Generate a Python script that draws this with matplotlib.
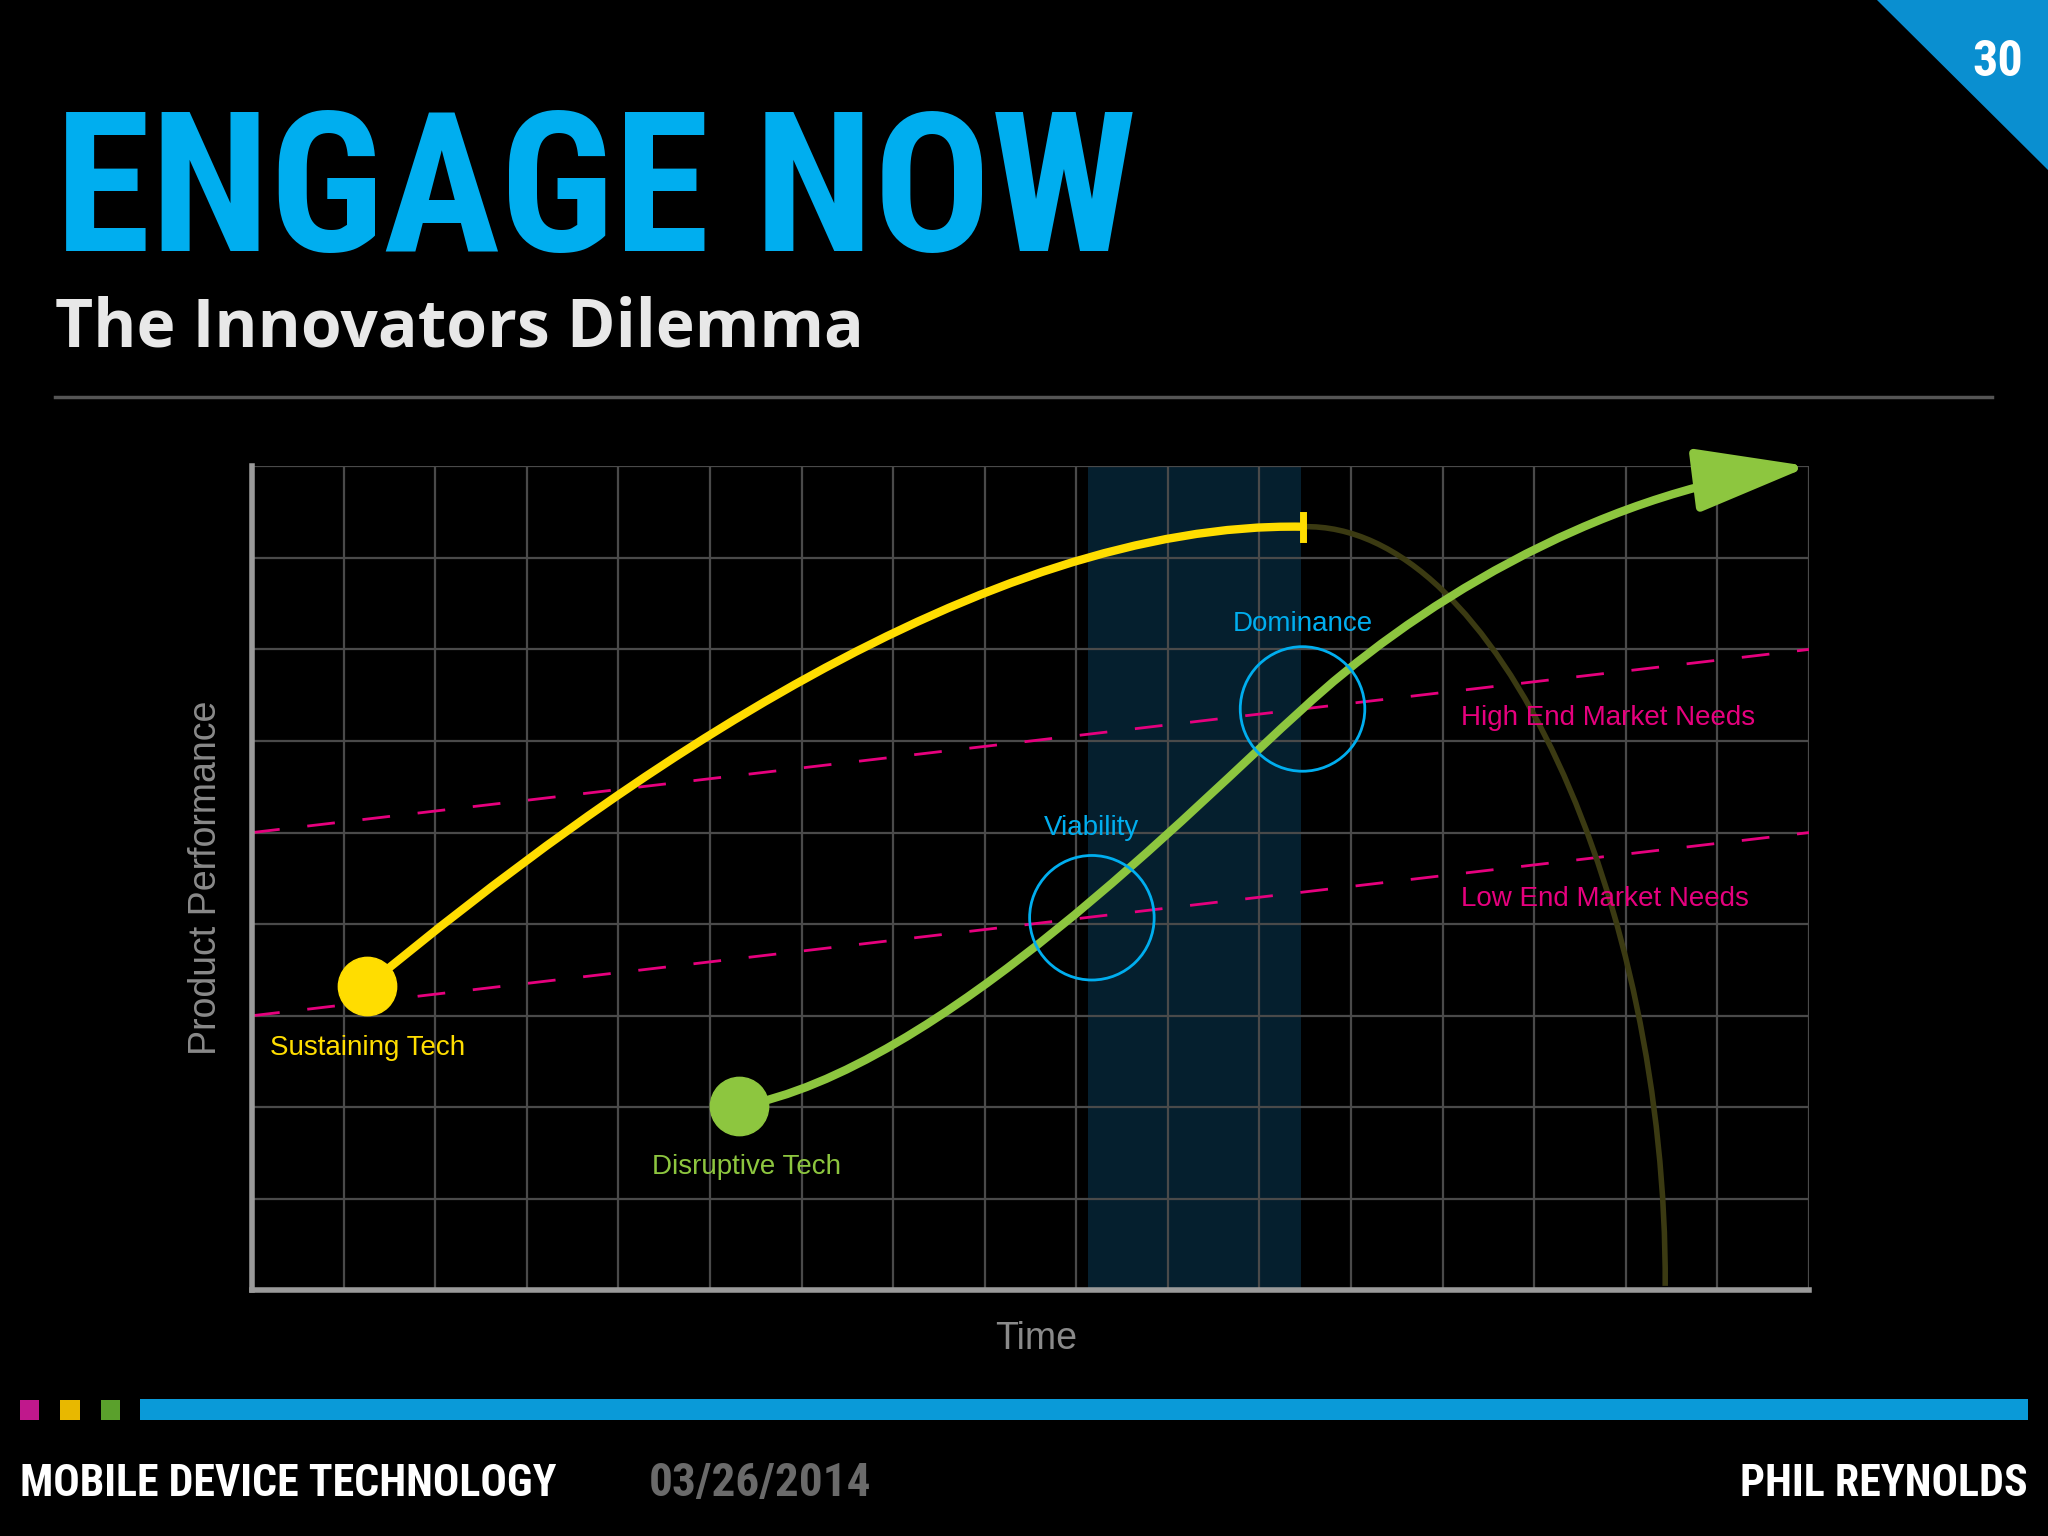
import matplotlib
matplotlib.use("Agg")
import matplotlib.pyplot as plt
from matplotlib import font_manager
from matplotlib.path import Path
from matplotlib.patches import FancyArrowPatch, PathPatch, Circle, Rectangle, Polygon

# reference layout was read at 1568x1176
RW, RH = 1568, 1176

def fx(x):
    return x / RW

def fy(y):
    return 1 - y / RH

# grid in data units (17 x 9 cells)
n_cols, n_rows = 17, 9
band = (9.13, 11.45)

sust_start = (1.25, 3.32)
sust_ctrl = [(4.0, 5.6), (8.0, 8.4)]
sust_end = (11.47, 8.34)
fall_ctrl = [(13.6, 8.4), (15.45, 4.2)]
fall_end = (15.43, 0.05)

disr_start = (5.32, 2.01)
disr_ctrl1 = [(7.5, 2.4), (10.3, 5.3)]
disr_mid = (11.47, 6.35)
disr_ctrl2 = [(12.6, 7.4), (14.6, 8.7)]
disr_end = (17.0, 9.0)

high_end = [(0, 5.0), (17, 7.0)]
low_end = [(0, 3.0), (17, 5.0)]

viability = (9.17, 4.07)
dominance = (11.47, 6.35)
ring_r = 0.68

CYAN = "#00aeef"
YELLOW = "#ffdd00"
GREEN = "#8dc63f"
MAGENTA = "#e6007e"
GRID = "#4a4a4a"

installed = {f.name for f in font_manager.fontManager.ttflist}
NARROW = next((n for n in ["Liberation Sans Narrow", "DejaVu Sans Condensed",
                           "Roboto Condensed", "Open Sans Condensed"] if n in installed),
              "Liberation Sans")

fig = plt.figure(figsize=(20.48, 15.36), dpi=100, facecolor="black")
renderer = fig.canvas.get_renderer()

def fit_text(x0, y0, x1, s, size, **kw):
    """place text at ref px (x0, y0) and shrink it to end near ref px x1"""
    t = fig.text(fx(x0), fy(y0), s, fontsize=size, **kw)
    w = t.get_window_extent(renderer).width
    target = (x1 - x0) / RW * fig.bbox.width
    t.set_fontsize(size * min(1.0, target / w))
    return t

ax = fig.add_axes([fx(193), fy(988), 1192 / RW, 631 / RH])
ax.set_facecolor("black")
ax.set_xlim(0, n_cols)
ax.set_ylim(0, n_rows)
ax.set_xticks(range(n_cols + 1))
ax.set_yticks(range(n_rows + 1))
ax.tick_params(length=0, labelleft=False, labelbottom=False)
ax.grid(True, color=GRID, lw=1.6)
ax.set_axisbelow(True)
for s in ["top", "right"]:
    ax.spines[s].set_visible(False)
for s in ["left", "bottom"]:
    ax.spines[s].set_color("#9a9a9a")
    ax.spines[s].set_linewidth(4)

ax.axvspan(band[0], band[1], color="#0a3a55", alpha=0.55, lw=0, zorder=0.5)

# market needs
for pts in (high_end, low_end):
    ax.plot([pts[0][0], pts[1][0]], [pts[0][1], pts[1][1]], color=MAGENTA,
            lw=2, dashes=(10, 10), zorder=2)

# sustaining tech fall-off (faint)
fall = Path([sust_end, *fall_ctrl, fall_end], [Path.MOVETO] + [Path.CURVE4] * 3)
ax.add_patch(PathPatch(fall, fc="none", ec="#3b3a12", lw=4, zorder=2))

# sustaining tech
sust = Path([sust_start, *sust_ctrl, sust_end], [Path.MOVETO] + [Path.CURVE4] * 3)
ax.add_patch(PathPatch(sust, fc="none", ec=YELLOW, lw=6, zorder=3, capstyle="butt"))
ax.plot([sust_end[0], sust_end[0]], [sust_end[1] - 0.13, sust_end[1] + 0.13],
        color=YELLOW, lw=5, zorder=3)
ax.plot(*sust_start, "o", ms=42, color=YELLOW, zorder=4)

# disruptive tech
disr = Path([disr_start, *disr_ctrl1, disr_mid, *disr_ctrl2, disr_end],
            [Path.MOVETO] + [Path.CURVE4] * 6)
ax.add_patch(FancyArrowPatch(path=disr, arrowstyle="-|>,head_length=3.2,head_width=0.9",
                             mutation_scale=22, color=GREEN, lw=6, zorder=3,
                             clip_on=False))
ax.plot(*disr_start, "o", ms=42, color=GREEN, zorder=4)

for c in (viability, dominance):
    ax.add_patch(Circle(c, ring_r, fc="none", ec=CYAN, lw=2, zorder=5))

lab = dict(fontsize=20, family="Liberation Sans")
ax.text(0.2, 2.65, "Sustaining Tech", color=YELLOW, ha="left", va="center", **lab)
ax.text(5.4, 1.35, "Disruptive Tech", color=GREEN, ha="center", va="center", **lab)
ax.text(viability[0], 5.05, "Viability", color=CYAN, ha="center", va="center", **lab)
ax.text(dominance[0], 7.28, "Dominance", color=CYAN, ha="center", va="center", **lab)
ax.text(13.2, 6.25, "High End Market Needs", color=MAGENTA, ha="left", va="center", **lab)
ax.text(13.2, 4.28, "Low End Market Needs", color=MAGENTA, ha="left", va="center", **lab)

fig.text(fx(158), fy(672), "Product Performance", color="#8a8a8a", rotation=90,
         ha="center", va="center", fontsize=27, family="Liberation Sans")
fig.text(fx(793), fy(1025), "Time", color="#8a8a8a", ha="center", va="center",
         fontsize=27, family="Liberation Sans")

# header
fit_text(42, 192, 870, "ENGAGE NOW", 205, color=CYAN, fontweight="bold",
         family=NARROW, ha="left", va="baseline")
fit_text(42, 265, 662, "The Innovators Dilemma", 50, color="#e8e8e8",
         fontweight="bold", family="Open Sans", ha="left", va="baseline")
fig.add_artist(plt.Line2D([fx(42), fx(1525)], [fy(304), fy(304)], color="#555555", lw=2.5))

fig.add_artist(Polygon([[fx(1437), 1], [1, 1], [1, fy(130)]], closed=True,
                       fc="#0a8fd0", ec="none"))
fit_text(1510, 58, 1553, "30", 36, color="white", fontweight="bold",
         family=NARROW, ha="left", va="baseline")

# footer
for x0, col in [(15, "#c0188c"), (46, "#e8b800"), (77, "#5aa02c")]:
    fig.add_artist(Rectangle((fx(x0), fy(1087)), 15 / RW, 15 / RH, fc=col, ec="none"))
fig.add_artist(Rectangle((fx(107), fy(1087)), 1446 / RW, 16 / RH, fc="#0a9ad8", ec="none"))
foot = dict(fontweight="bold", family=NARROW, va="baseline", ha="left")
fit_text(15, 1145, 427, "MOBILE DEVICE TECHNOLOGY", 34, color="white", **foot)
fit_text(497, 1145, 684, "03/26/2014", 34, color="#6a6a6a", **foot)
fit_text(1332, 1145, 1553, "PHIL REYNOLDS", 34, color="white", **foot)

fig.savefig("out.png", dpi=100, facecolor="black")
